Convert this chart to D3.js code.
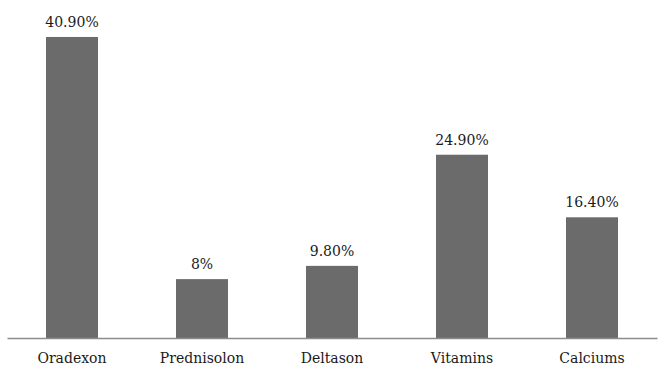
<!DOCTYPE html>
<html>
<head>
<meta charset="utf-8">
<script src="https://cdn.jsdelivr.net/npm/d3@7"></script>
<style>
  html, body { margin: 0; padding: 0; background: #fff; }
</style>
</head>
<body>
<svg id="chart" width="667" height="377"></svg>
<script>
const categories  = ["Oradexon", "Prednisolon", "Deltason", "Vitamins", "Calciums"];
const values      = [40.9, 8, 9.8, 24.9, 16.4];
const valueLabels = ["40.90%", "8%", "9.80%", "24.90%", "16.40%"];

const serif    = "'DejaVu Serif', serif";
const baseline = 338;

const svg = d3.select("#chart");

const x = d3.scaleBand()
  .domain(categories)
  .range([7, 657])
  .paddingInner(0.6)
  .paddingOuter(0.3);

const y = d3.scaleLinear()
  .domain([0, 45])
  .range([baseline, baseline - 45 * 7.36]);

svg.selectAll("rect.bar")
  .data(values)
  .enter()
  .append("rect")
  .attr("class", "bar")
  .attr("x", (d, i) => x(categories[i]))
  .attr("y", d => y(d))
  .attr("width", x.bandwidth())
  .attr("height", d => baseline - y(d))
  .attr("fill", "#6b6b6b");

// category axis, no ticks
const axis = svg.append("g")
  .attr("transform", `translate(0,${baseline})`)
  .call(d3.axisBottom(x).tickSize(0).tickPadding(15))
  .attr("font-family", serif)
  .attr("font-size", 14);
axis.select(".domain").attr("stroke", "#8c8c8c").attr("stroke-width", 1.5);
axis.selectAll("text").attr("fill", "#1a1a1a");

svg.append("g")
  .attr("font-family", serif)
  .attr("font-size", 14)
  .selectAll("text")
  .data(values)
  .enter()
  .append("text")
  .attr("x", (d, i) => x(categories[i]) + x.bandwidth() / 2)
  .attr("y", d => y(d) - 10)
  .attr("text-anchor", "middle")
  .attr("fill", "#1a1a1a")
  .text((d, i) => valueLabels[i]);
</script>
</body>
</html>
